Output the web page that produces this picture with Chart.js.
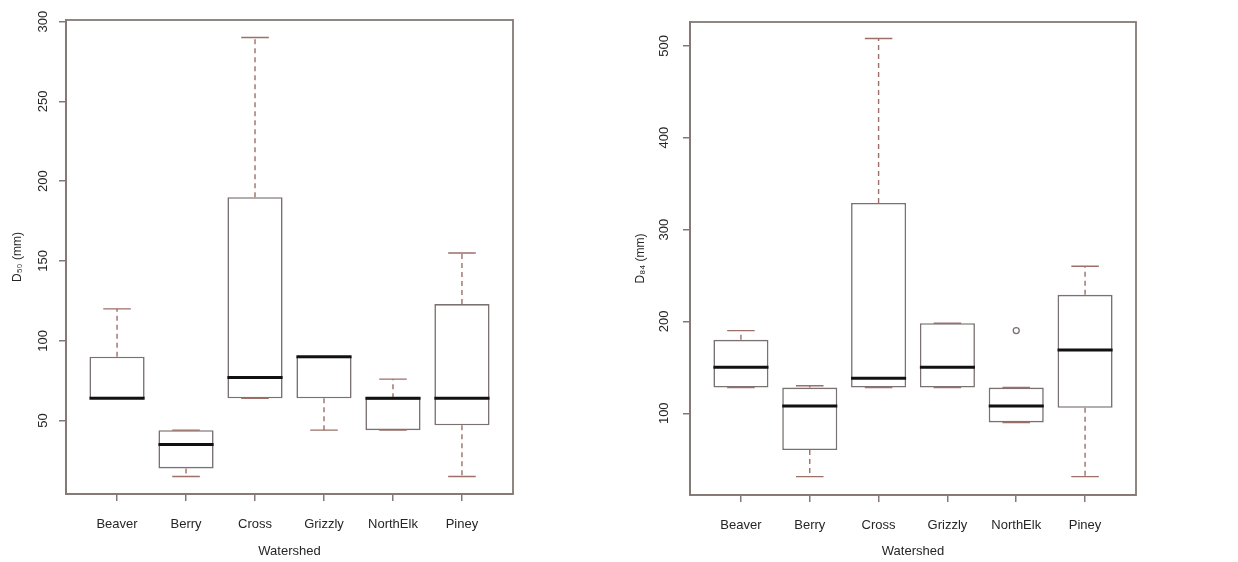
<!DOCTYPE html>
<html>
<head>
<meta charset="utf-8">
<script src="https://cdn.jsdelivr.net/npm/chart.js@4.4.1/dist/chart.umd.min.js"></script>
<style>
  html, body { margin: 0; padding: 0; background: #fff; }
  #wrap { position: relative; width: 1238px; height: 562px; }
  .panel { position: absolute; top: 0; width: 619px; height: 562px; }
  #p1 { left: 0; }
  #p2 { left: 619px; }
</style>
</head>
<body>
<div id="wrap">
  <div class="panel" id="p1"><canvas id="c1" width="619" height="562"></canvas></div>
  <div class="panel" id="p2"><canvas id="c2" width="619" height="562"></canvas></div>
</div>
<script>
const watersheds = ['Beaver', 'Berry', 'Cross', 'Grizzly', 'NorthElk', 'Piney'];

// D50 grain size (mm): five-number summaries per watershed
const d50Min    = [64, 15, 64, 44, 44, 15];
const d50Q1     = [64, 20, 64, 64, 44, 47];
const d50Median = [64, 35, 77, 90, 64, 64];
const d50Q3     = [90, 44, 190, 90, 64, 123];
const d50Max    = [120, 44, 290, 90, 76, 155];
const d50Outliers = [null, null, null, null, null, null];
const d50Ticks  = [50, 100, 150, 200, 250, 300];

// D84 grain size (mm)
const d84Min    = [128, 31, 128, 128, 90, 31];
const d84Q1     = [128, 60, 128, 128, 90, 106];
const d84Median = [150, 108, 138, 150, 108, 169];
const d84Q3     = [180, 128, 329, 198, 128, 229];
const d84Max    = [190, 130, 508, 198, 128, 260];
const d84Outliers = [null, null, null, null, 190, null];
const d84Ticks  = [100, 200, 300, 400, 500];

const TEXT = '#262626';
const FRAME = '#847977';
const BOX = '#7a7270';
const WHISKER = '#9c6f68';
const FONT = { family: '"Liberation Sans", Arial, Helvetica, sans-serif', size: 13 };

// Whiskers, caps and medians, placed on top of the box (bar) elements
const boxWhiskers = {
  id: 'boxWhiskers',
  afterDatasetsDraw(chart, args, opts) {
    const { ctx } = chart;
    const y = chart.scales.y;
    const bars = chart.getDatasetMeta(0).data;
    ctx.save();
    bars.forEach((bar, i) => {
      const cx = bar.x;
      const half = bar.width / 2;
      const yq1 = y.getPixelForValue(opts.q1[i]);
      const yq3 = y.getPixelForValue(opts.q3[i]);
      const ymin = y.getPixelForValue(opts.min[i]);
      const ymax = y.getPixelForValue(opts.max[i]);
      const ymed = y.getPixelForValue(opts.median[i]);
      // dashed whiskers
      ctx.strokeStyle = WHISKER;
      ctx.lineWidth = 1.4;
      ctx.setLineDash([5, 4]);
      ctx.beginPath();
      ctx.moveTo(cx, yq3); ctx.lineTo(cx, ymax);
      ctx.moveTo(cx, yq1); ctx.lineTo(cx, ymin);
      ctx.stroke();
      // caps
      ctx.setLineDash([]);
      ctx.beginPath();
      ctx.moveTo(cx - half / 2, ymax); ctx.lineTo(cx + half / 2, ymax);
      ctx.moveTo(cx - half / 2, ymin); ctx.lineTo(cx + half / 2, ymin);
      ctx.stroke();
      // median
      ctx.strokeStyle = '#111';
      ctx.lineWidth = 3;
      ctx.beginPath();
      ctx.moveTo(cx - half, ymed); ctx.lineTo(cx + half, ymed);
      ctx.stroke();
    });
    ctx.restore();
  },
  afterDraw(chart) {
    const { ctx, chartArea: a } = chart;
    ctx.save();
    ctx.strokeStyle = FRAME;
    ctx.lineWidth = 1.8;
    ctx.strokeRect(a.left, a.top, a.right - a.left, a.bottom - a.top);
    ctx.restore();
  }
};

function drawPanel(canvas, s) {
  const boxes = s.q1.map((v, i) => ({ x: i + 1, y: [v, s.q3[i]] }));
  const outliers = s.outliers
    .map((v, i) => (v == null ? null : { x: i + 1, y: v }))
    .filter(Boolean);

  return new Chart(canvas, {
    type: 'bar',
    data: {
      datasets: [
        {
          data: boxes,
          backgroundColor: '#fff',
          borderColor: BOX,
          borderWidth: 1.6,
          borderSkipped: false,
          barPercentage: 0.8,
          categoryPercentage: 1,
          grouped: false
        },
        {
          type: 'scatter',
          data: outliers,
          pointRadius: 3,
          pointBorderWidth: 1.3,
          pointBorderColor: BOX,
          pointBackgroundColor: '#fff'
        }
      ]
    },
    options: {
      responsive: false,
      animation: false,
      events: [],
      layout: { padding: { left: 0, top: s.top, right: s.right, bottom: 0 } },
      plugins: {
        legend: { display: false },
        tooltip: { enabled: false },
        boxWhiskers: { min: s.min, q1: s.q1, median: s.median, q3: s.q3, max: s.max }
      },
      scales: {
        x: {
          type: 'linear',
          min: 0.26,
          max: 6.74,
          offset: false,
          afterBuildTicks: sc => { sc.ticks = watersheds.map((_, i) => ({ value: i + 1 })); },
          afterFit: sc => { sc.height = s.xAxisHeight; },
          ticks: {
            autoSkip: false,
            maxRotation: 0,
            padding: 16,
            color: TEXT,
            font: FONT,
            callback: v => watersheds[v - 1]
          },
          grid: { drawOnChartArea: false, tickLength: 7, color: FRAME, lineWidth: 1.5, offset: false },
          border: { display: true, color: FRAME, width: 1.8 },
          title: { display: true, text: 'Watershed', color: TEXT, font: FONT, padding: { top: 0, bottom: 3 } }
        },
        y: {
          min: s.yMin,
          max: s.yMax,
          afterBuildTicks: sc => { sc.ticks = s.ticks.map(v => ({ value: v })); },
          afterFit: sc => { sc.width = s.yAxisWidth; },
          ticks: {
            minRotation: 90,
            maxRotation: 90,
            crossAlign: 'center',
            padding: s.tickPad,
            color: TEXT,
            font: FONT
          },
          grid: { drawOnChartArea: false, tickLength: 7, color: FRAME, lineWidth: 1.5 },
          border: { display: true, color: FRAME, width: 1.8 },
          title: { display: true, text: s.title, color: TEXT, font: { ...FONT, size: 12 }, padding: { top: s.titlePad, bottom: 0 } }
        }
      }
    },
    plugins: [boxWhiskers]
  });
}

drawPanel(document.getElementById('c1'), {
  min: d50Min, q1: d50Q1, median: d50Median, q3: d50Q3, max: d50Max,
  outliers: d50Outliers, ticks: d50Ticks,
  yMin: 4, yMax: 301, title: 'D\u2085\u2080 (mm)',
  top: 20, right: 106, yAxisWidth: 66, xAxisHeight: 68, tickPad: 5, titlePad: 10
});

drawPanel(document.getElementById('c2'), {
  min: d84Min, q1: d84Q1, median: d84Median, q3: d84Q3, max: d84Max,
  outliers: d84Outliers, ticks: d84Ticks,
  yMin: 11, yMax: 526, title: 'D\u2088\u2084 (mm)',
  top: 22, right: 102, yAxisWidth: 71, xAxisHeight: 67, tickPad: 8, titlePad: 14
});
</script>
</body>
</html>
